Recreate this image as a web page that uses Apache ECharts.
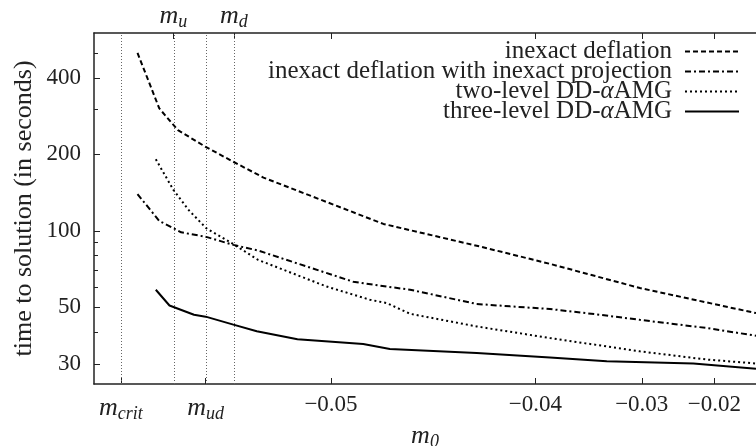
<!DOCTYPE html>
<html>
<head>
<meta charset="utf-8">
<script src="https://cdn.jsdelivr.net/npm/echarts@6/dist/echarts.min.js"></script>
<style>
html,body{margin:0;padding:0;background:#fff;}
#chart{width:756px;height:446px;}
</style>
</head>
<body>
<div id="chart"></div>
<script>
// ---- data (m0, time to solution in seconds) ----
const mCrit = -0.05419, mU = -0.05347, mUd = -0.05294, mD = -0.05241;
const xTickValues = [-0.05, -0.04, -0.03, -0.02];
const yLabelValues = [30, 50, 100, 200, 400];
const yMinorValues = [40, 60, 70, 80, 90, 300, 500];
const xRange = [-0.0545, -0.01265];
const yRange = [25, 600];

const seriesNames = [
  'inexact deflation',
  'inexact deflation with inexact projection',
  'two-level DD-αAMG',
  'three-level DD-αAMG'
];

const inexactDeflation = [
  [-0.05398, 501], [-0.05368, 303], [-0.05340, 249], [-0.05294, 214],
  [-0.05242, 187], [-0.05178, 162], [-0.04821, 106.5], [-0.04363, 86.8],
  [-0.03888, 74.2], [-0.03021, 59.6], [-0.01265, 47.5]
];
const inexactProjection = [
  [-0.05398, 139.5], [-0.05368, 109.4], [-0.05347, 102.5], [-0.05335, 98.7],
  [-0.05293, 94.7], [-0.05242, 88.1], [-0.05190, 83.7], [-0.04929, 63.1],
  [-0.04808, 60.4], [-0.04713, 58.7], [-0.04382, 51.6], [-0.04177, 50.5],
  [-0.03888, 49.3], [-0.03448, 46.8], [-0.03021, 44.7], [-0.02120, 41.5],
  [-0.01265, 38.7]
];
const twoLevel = [
  [-0.05373, 191.3], [-0.05347, 144.9], [-0.05323, 120.9], [-0.05293, 102.5],
  [-0.05242, 88.7], [-0.05190, 76.9], [-0.05013, 60.4], [-0.04871, 53.6],
  [-0.04808, 52.0], [-0.04713, 47.2], [-0.04382, 42.1], [-0.03888, 37.9],
  [-0.03021, 33.6], [-0.02120, 31.2], [-0.01265, 30.1]
];
const threeLevel = [
  [-0.05373, 58.7], [-0.05353, 50.9], [-0.05314, 46.8], [-0.05294, 46.0],
  [-0.05242, 42.8], [-0.05193, 40.3], [-0.05095, 37.5], [-0.04895, 35.9],
  [-0.04796, 34.3], [-0.04382, 33.1], [-0.03888, 31.8], [-0.03381, 30.7],
  [-0.02322, 30.1], [-0.01265, 28.7]
];

// ---- axis transforms (non-linear m0 axis, log time axis) ----
const xT = m => Math.log((m + 0.057) / 0.007);
const yT = v => Math.log10(v);
const toPts = arr => arr.map(p => [xT(p[0]), yT(p[1])]);

const FONT = 'Liberation Serif';
const NUMFS = 23;
const TXTFS = 25;
const mathRich = {
  m: {fontFamily: FONT, fontStyle: 'italic', fontSize: 26, color: '#222'},
  s: {fontFamily: FONT, fontStyle: 'italic', fontSize: 18, color: '#222', padding: [12, 0, 0, 0]}
};

const bottomLabels = [[mCrit, '{m|m}{s|crit}'], [mUd, '{m|m}{s|ud}']]
  .concat(xTickValues.map(v => [v, '−' + Math.abs(v).toFixed(2)]));
const topLabels = [[mU, '{m|m}{s|u}'], [mD, '{m|m}{s|d}']];
const findLabel = (list, v) => {
  for (const [m, s] of list) if (Math.abs(xT(m) - v) < 1e-6) return s;
  return '';
};

const chart = echarts.init(document.getElementById('chart'), null, {renderer: 'canvas'});
const lineBase = {type: 'line', showSymbol: false, symbol: 'none', smooth: false, clip: true};

chart.setOption({
  animation: false,
  backgroundColor: '#fff',
  textStyle: {fontFamily: FONT},
  grid: {left: 94, right: 0, top: 33, bottom: 62, containLabel: false, outerBoundsMode: 'none'},
  legend: {
    orient: 'vertical', align: 'right', right: 11, top: 34,
    itemWidth: 54, itemHeight: 14, itemGap: -5,
    itemStyle: {opacity: 0},
    textStyle: {fontFamily: FONT, fontSize: TXTFS, color: '#222', padding: [0, 8, 0, 0],
      rich: {a: {fontFamily: FONT, fontStyle: 'italic', fontSize: TXTFS, color: '#222'},
             n: {fontFamily: FONT, fontSize: TXTFS, color: '#222'}}},
    formatter: name => name.indexOf('α') >= 0
      ? '{n|' + name.split('α')[0] + '}{a|α}{n|' + name.split('α')[1] + '}'
      : '{n|' + name + '}',
    data: seriesNames
  },
  xAxis: [{
    type: 'value', position: 'bottom', min: xT(xRange[0]), max: xT(xRange[1]),
    axisLine: {show: true, onZero: false, lineStyle: {color: '#222', width: 1.5}},
    axisTick: {show: true, inside: true, length: 6, lineStyle: {color: '#222', width: 1},
      customValues: [mCrit, mUd].concat(xTickValues).map(xT)},
    axisLabel: {show: true, margin: 9, fontFamily: FONT, fontSize: NUMFS, color: '#222',
      customValues: [mCrit, mUd].concat(xTickValues).map(xT),
      formatter: v => findLabel(bottomLabels, v), rich: mathRich},
    splitLine: {show: false},
    name: '{m|m}{s|0}', nameLocation: 'middle', nameGap: 37, nameMoveOverlap: false,
    nameTextStyle: {rich: mathRich}
  }, {
    type: 'value', position: 'top', min: xT(xRange[0]), max: xT(xRange[1]),
    axisLine: {show: true, onZero: false, lineStyle: {color: '#222', width: 1.5}},
    axisTick: {show: true, inside: true, length: 6, lineStyle: {color: '#222', width: 1},
      customValues: [mU, mD].concat(xTickValues).map(xT)},
    axisLabel: {show: true, margin: 2, fontFamily: FONT, fontSize: NUMFS, color: '#222',
      customValues: [mU, mD].map(xT),
      formatter: v => findLabel(topLabels, v), rich: mathRich},
    splitLine: {show: false}
  }],
  yAxis: [{
    type: 'value', position: 'left', min: yT(yRange[0]), max: yT(yRange[1]),
    axisLine: {show: true, onZero: false, lineStyle: {color: '#222', width: 1.5}},
    axisTick: {show: true, inside: true, length: 6, lineStyle: {color: '#222', width: 1},
      customValues: yLabelValues.map(yT)},
    axisLabel: {show: true, margin: 13, fontFamily: FONT, fontSize: NUMFS, color: '#222',
      customValues: yLabelValues.map(yT),
      formatter: v => String(Math.round(Math.pow(10, v)))},
    splitLine: {show: false},
    name: 'time to solution (in seconds)', nameLocation: 'middle', nameGap: 57, nameRotate: 90,
    nameMoveOverlap: false,
    nameTextStyle: {fontFamily: FONT, fontSize: 26, color: '#222'}
  }, {
    type: 'value', position: 'left', offset: 0, min: yT(yRange[0]), max: yT(yRange[1]),
    axisLine: {show: false, onZero: false},
    axisTick: {show: true, inside: true, length: 4, lineStyle: {color: '#222', width: 1},
      customValues: yMinorValues.map(yT)},
    axisLabel: {show: false},
    splitLine: {show: false}
  }],
  series: [
    Object.assign({}, lineBase, {
      name: seriesNames[0], data: toPts(inexactDeflation), z: 3,
      lineStyle: {color: '#000', width: 2, type: [5, 3]}, itemStyle: {color: '#000'},
      markLine: {
        silent: true, symbol: ['none', 'none'], label: {show: false}, z: 1,
        lineStyle: {color: '#666', width: 1, type: [1, 2]},
        data: [{xAxis: xT(mCrit)}, {xAxis: xT(mU)}, {xAxis: xT(mUd)}, {xAxis: xT(mD)}]
      }
    }),
    Object.assign({}, lineBase, {
      name: seriesNames[1], data: toPts(inexactProjection), z: 3,
      lineStyle: {color: '#000', width: 2, type: [6, 3, 2, 3]}, itemStyle: {color: '#000'}
    }),
    Object.assign({}, lineBase, {
      name: seriesNames[2], data: toPts(twoLevel), z: 3,
      lineStyle: {color: '#000', width: 2, type: [2, 3]}, itemStyle: {color: '#000'}
    }),
    Object.assign({}, lineBase, {
      name: seriesNames[3], data: toPts(threeLevel), z: 3,
      lineStyle: {color: '#000', width: 2, type: 'solid'}, itemStyle: {color: '#000'}
    })
  ]
});
</script>
</body>
</html>
